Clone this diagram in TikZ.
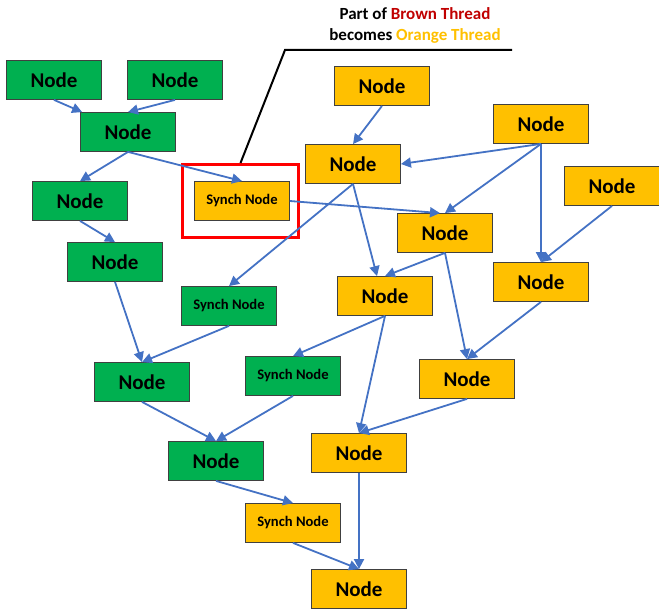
\documentclass[tikz,border=0pt]{standalone}
\usepackage{fontspec}
\setmainfont{Carlito}
\usetikzlibrary{arrows.meta}
\definecolor{gnode}{HTML}{00B050}
\definecolor{onode}{HTML}{FFC000}
\definecolor{flow}{HTML}{4472C4}
\definecolor{brownred}{HTML}{C00000}
\begin{document}
\begin{tikzpicture}[x=1pt,y=-1pt,
  box/.style={draw=black!75,line width=0.8pt,minimum width=95pt,minimum height=39pt,inner sep=0pt,font=\bfseries\fontsize{21}{24}\selectfont},
  gbox/.style={box,fill=gnode},
  obox/.style={box,fill=onode},
  sbox/.style={font=\bfseries\fontsize{14.6}{16}\selectfont},
  arr/.style={draw=flow,line width=1.8pt,-{Triangle[length=10pt,width=10pt]}}]
\useasboundingbox (0,0) rectangle (659,612);
% green thread
\node[gbox] (g1) at (54,80) {Node};
\node[gbox] (g2) at (175,80) {Node};
\node[gbox] (g3) at (128,132) {Node};
\node[gbox] (g4) at (80,201) {Node};
\node[gbox] (g5) at (115,262) {Node};
\node[gbox,sbox] (s1) at (229,306) {Synch Node};
\node[gbox] (g6) at (142,382) {Node};
\node[gbox,sbox] (s2) at (293,376) {Synch Node};
\node[gbox] (g7) at (216,461) {Node};
% orange thread
\node[obox,sbox] (so1) at (242,201) {Synch Node};
\node[obox] (o1) at (382,86) {Node};
\node[obox] (o2) at (353,164) {Node};
\node[obox] (o3) at (541,124) {Node};
\node[obox] (o4) at (612,186) {Node};
\node[obox] (o5) at (445,233) {Node};
\node[obox] (o6) at (541,282) {Node};
\node[obox] (o7) at (385,296) {Node};
\node[obox] (o8) at (467,379) {Node};
\node[obox] (o9) at (359,453) {Node};
\node[obox,sbox] (so2) at (293,523) {Synch Node};
\node[obox] (o10) at (359,589) {Node};
% callout
\node[draw=red,line width=3pt,minimum width=116pt,minimum height=73pt] (frame) at (240.5,201) {};
\node[align=center,font=\bfseries\fontsize{17}{21}\selectfont] (note) at (415,25)
  {Part of \textcolor{brownred}{Brown Thread}\\becomes \textcolor{onode}{Orange Thread}};
\coordinate (bend) at (285,50);
\coordinate (tail) at (512,50);
\draw[line width=2pt] (frame.north) -- (bend) -- (tail);
% edges
\draw[arr] (g1.south) -- ([xshift=2pt]g3.north west);
\draw[arr] (g2.south) -- (g3.north);
\draw[arr] (g3.south) -- (g4.north);
\draw[arr] (g3.south) -- (so1.north);
\draw[arr] (g4.south) -- (g5.north);
\draw[arr] (g5.south) -- (g6.north);
\draw[arr] (s1.south) -- (g6.north);
\draw[arr] (g6.south) -- (g7.north);
\draw[arr] (s2.south) -- (g7.north);
\draw[arr] (g7.south) -- (so2.north);
\draw[arr] (so2.south) -- (o10.north);
\draw[arr] (o9.south) -- (o10.north);
\draw[arr] (o1.south) -- (o2.north);
\draw[arr] (o3.south) -- (o2.east);
\draw[arr] (o3.south) -- (o5.north);
\draw[arr] (o3.south) -- (o6.north);
\draw[arr] (o4.south) -- (o6.north);
\draw[arr] (o2.south) -- (s1.north);
\draw[arr] (o2.south) -- ([xshift=-8pt]o7.north);
\draw[arr] (so1.east) -- ([xshift=-5pt]o5.north);
\draw[arr] (o5.south) -- (o7.north);
\draw[arr] (o5.south) -- (o8.north);
\draw[arr] (o6.south) -- (o8.north);
\draw[arr] (o7.south) -- (s2.north);
\draw[arr] (o7.south) -- (o9.north);
\draw[arr] (o8.south) -- (o9.north);
\end{tikzpicture}
\end{document}
